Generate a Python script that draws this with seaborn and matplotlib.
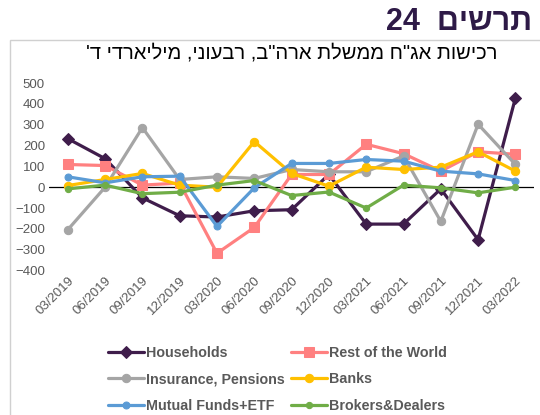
import numpy as np
import pandas as pd
import seaborn as sns
import matplotlib.pyplot as plt
from matplotlib.patches import Rectangle

sns.set_theme(style="white")
plt.rcParams['font.family'] = ['Liberation Sans', 'DejaVu Sans']

# quarters
quarters = ['03/2019', '06/2019', '09/2019', '12/2019', '03/2020', '06/2020', '09/2020',
            '12/2020', '03/2021', '06/2021', '09/2021', '12/2021', '03/2022']

households = [233, 137, -51, -137, -143, -113, -108, 61, -177, -177, -8, -252, 428]
rest_world = [109, 104, 10, 20, -317, -193, 61, 61, 206, 161, 77, 170, 158]
insurance = [-204, 0, 286, 37, 50, 42, 85, 74, 74, 150, -164, 302, 109]
banks = [8, 37, 66, 10, 0, 219, 66, 5, 96, 85, 96, 170, 77]
mutual_funds = [50, 21, 50, 53, -188, -3, 114, 114, 133, 125, 77, 64, 32]
brokers = [-8, 10, -31, -24, 10, 32, -40, -23, -100, 10, -3, -27, 0]

names = ['Households', 'Rest of the World', 'Insurance, Pensions', 'Banks',
         'Mutual Funds+ETF', 'Brokers&Dealers']
series = [households, rest_world, insurance, banks, mutual_funds, brokers]
colors = ['#3f1d4b', '#ff8080', '#a5a5a5', '#ffc000', '#5b9bd5', '#70ad47']
markers = ['D', 's', 'o', 'o', 'o', 'o']
msizes = [6, 7, 6, 6, 5, 4.5]

rows = []
for n, vals in zip(names, series):
    for i, v in enumerate(vals):
        rows.append({'idx': i, 'val': v, 'name': n})
df = pd.DataFrame(rows)

fig = plt.figure(figsize=(5.4, 4.15), dpi=100)
fig.patches.append(Rectangle((0.0185, -0.05), 1.0, 0.954, transform=fig.transFigure,
                             fill=False, edgecolor='#d0d0d0', lw=1.0))
ax = fig.add_axes([0.091, 0.348, 0.898, 0.452])

ax.axhline(0, color='black', lw=0.9, zorder=1)
for n, c, m, ms in zip(names, colors, markers, msizes):
    sub = df[df['name'] == n]
    sns.lineplot(data=sub, x='idx', y='val', ax=ax, color=c, lw=2.3,
                 marker=m, markersize=ms, markeredgecolor=c, label=n, zorder=3)

ax.set_xlim(-0.5, 12.5)
ax.set_ylim(-400, 500)
ax.set_yticks(np.arange(-400, 501, 100))
ax.set_xticks(range(len(quarters)))
ax.set_xticklabels(quarters, rotation=45, ha='right', rotation_mode='anchor')
ax.tick_params(axis='both', colors='#595959', labelsize=9.5, length=0, pad=3)
ax.set_xlabel('')
ax.set_ylabel('')
for s in ax.spines.values():
    s.set_visible(False)

h, l = ax.get_legend_handles_labels()
ax.get_legend().remove()
order = [0, 2, 4, 1, 3, 5]
fig.legend([h[i] for i in order], [l[i] for i in order], ncol=2, frameon=False,
           loc='upper left', bbox_to_anchor=(0.19, 0.181), handlelength=2.5,
           columnspacing=0.5, labelspacing=0.88, handletextpad=0.1,
           borderaxespad=0, prop={'weight': 'bold', 'size': 10.3}, labelcolor='#595959')

# Hebrew text in visual order
title_big = '24  ' + 'תרשים'[::-1]
fig.text(0.985, 0.947, title_big, ha='right', va='center', fontsize=22,
         fontweight='bold', color='#2e1a47')
chart_title = 'רכישות אג"ח ממשלת ארה"ב, רבעוני, מיליארדי ד\''[::-1]
fig.text(0.54, 0.872, chart_title, ha='center', va='center', fontsize=14.5, color='black')

fig.savefig('out.png', dpi=100)
